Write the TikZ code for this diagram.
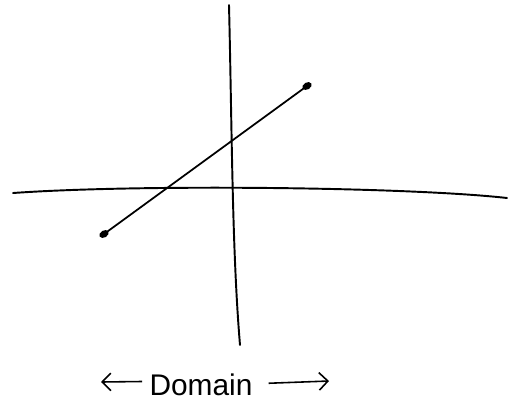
\documentclass[tikz,border=0pt]{standalone}
\usepackage{fontspec}
\setmainfont{Liberation Sans}
\usetikzlibrary{shapes.geometric, arrows.meta}
\tikzset{
  axis/.style = {line width=1.1pt, line cap=round},
  seg/.style  = {line width=1.0pt},
  dot/.style  = {
    ellipse, fill=black, rotate=30,
    minimum width=0.2cm, minimum height=0.14cm,
    inner sep=0pt
  },
  arr/.style  = {-{Straight Barb[length=5pt, width=10pt]}, line width=0.9pt},
  lbl/.style  = {font=\fontsize{17}{20}\selectfont, inner sep=0pt},
}

\begin{document}
\begin{tikzpicture}[x=0.02cm, y=-0.02cm]
\useasboundingbox (0,0) rectangle (510,407);

%% ── Axes (hand drawn, slightly bent) ────────────────────────────────────────
\coordinate (xl) at (13,193);
\coordinate (xr) at (507,198);
\coordinate (yt) at (229,5);
\coordinate (yb) at (240,345);
\draw[axis] (xl) .. controls (140,184) and (410,187) .. (xr);
\draw[axis] (yt) .. controls (232,130) and (232,250) .. (yb);

%% ── Segment with end points ─────────────────────────────────────────────────
\node[dot] (P) at (104,234) {};
\node[dot] (Q) at (307,86)  {};
\draw[seg] (P.center) -- (Q.center);

%% ── Domain label with arrows ────────────────────────────────────────────────
\node[lbl] (dom) at (201,385) {Domain};
\coordinate (lend) at (101,382);
\coordinate (rend) at (329,381);
\draw[arr] ([xshift=-4pt, yshift=2pt]dom.west) -- (lend);
\draw[arr] ([xshift=9pt, yshift=1pt]dom.east) -- (rend);

\end{tikzpicture}
\end{document}
